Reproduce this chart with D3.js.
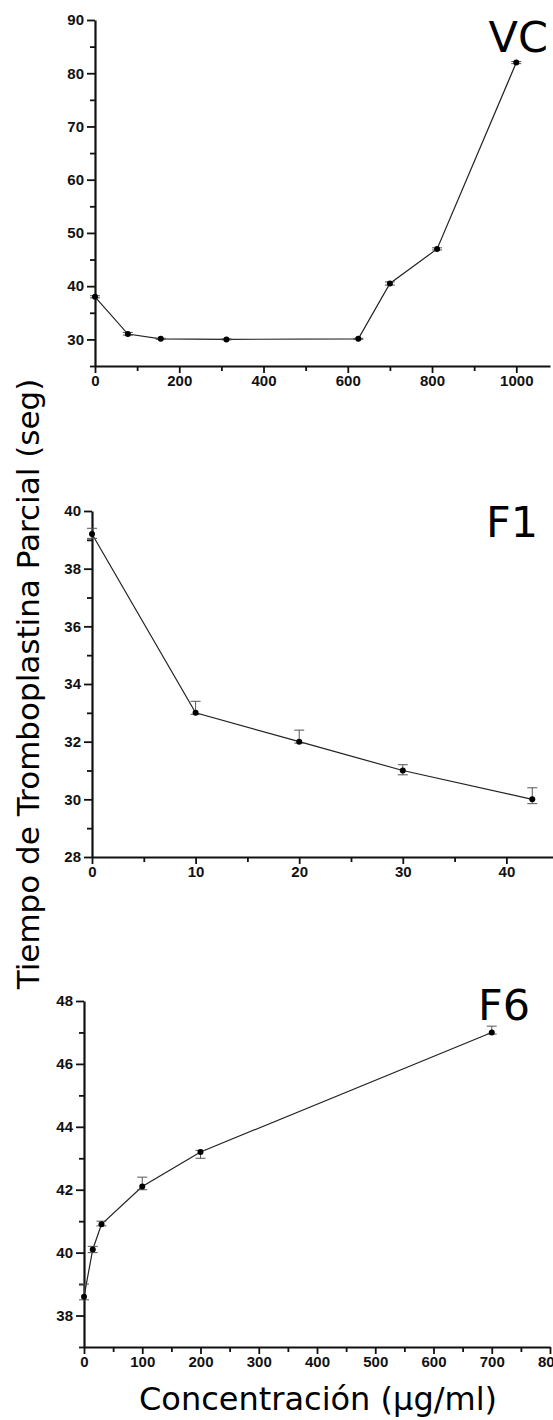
<!DOCTYPE html>
<html>
<head>
<meta charset="utf-8">
<script src="https://cdn.jsdelivr.net/npm/d3@7"></script>
<style>
  body { margin: 0; background: #fff; }
  svg { display: block; }
</style>
</head>
<body>
<div id="chart"></div>
<script>
// VC panel
const vcConc = [0, 78, 156, 312, 625, 700, 812, 1000];
const vcTime = [38, 31, 30.1, 30, 30.1, 40.5, 47, 82];
const vcHi = [38.2, 31.3, 30.2, 30.1, 30.2, 40.8, 47.2, 82.2];
const vcLo = [37.8, 30.8, 30.0, 29.9, 30.0, 40.2, 46.8, 81.8];
const vcYTicks = [30, 40, 50, 60, 70, 80, 90];
const vcXTicks = [0, 200, 400, 600, 800, 1000];

// F1 panel
const f1Conc = [0, 10, 20, 30, 42.5];
const f1Time = [39.2, 33, 32, 31, 30];
const f1Hi = [39.4, 33.4, 32.4, 31.2, 30.4];
const f1Lo = [39.05, 32.95, 31.95, 30.85, 29.85];
const f1YTicks = [28, 30, 32, 34, 36, 38, 40];
const f1XTicks = [0, 10, 20, 30, 40];

// F6 panel
const f6Conc = [0, 15, 30, 100, 200, 700];
const f6Time = [38.6, 40.1, 40.9, 42.1, 43.2, 47.0];
const f6Hi = [39.0, 40.2, 41.0, 42.4, 43.25, 47.2];
const f6Lo = [38.5, 40.0, 40.85, 42.0, 43.0, 46.95];
const f6YTicks = [38, 40, 42, 44, 46, 48];
const f6XTicks = [0, 100, 200, 300, 400, 500, 600, 700, 800];

const W = 553, H = 1420;
const svg = d3.select("#chart").append("svg").attr("width", W).attr("height", H);

function drawPanel(p) {
    const x = d3.scaleLinear().domain(p.xDomain).range(p.xRange);
    const y = d3.scaleLinear().domain(p.yDomain).range(p.yRange);
    const g = svg.append("g");

    // minor ticks
    g.append("g").attr("transform", `translate(${p.xRange[0]},0)`)
        .call(d3.axisLeft(y).tickValues(p.yMinor).tickSize(5).tickFormat(""))
        .call(a => a.select(".domain").remove());
    g.append("g").attr("transform", `translate(0,${p.yRange[0]})`)
        .call(d3.axisBottom(x).tickValues(p.xMinor).tickSize(5).tickFormat(""))
        .call(a => a.select(".domain").remove());

    const yAxis = g.append("g").attr("transform", `translate(${p.xRange[0]},0)`)
        .call(d3.axisLeft(y).tickValues(p.yTicks).tickFormat(d3.format("d"))
            .tickSize(8).tickSizeOuter(0).tickPadding(3));
    const xAxis = g.append("g").attr("transform", `translate(0,${p.yRange[0]})`)
        .call(d3.axisBottom(x).tickValues(p.xTicks).tickFormat(d3.format("d"))
            .tickSize(7).tickSizeOuter(0).tickPadding(2));
    [yAxis, xAxis].forEach(a => {
        a.select(".domain").attr("stroke-width", 2.2).attr("stroke", "#111");
        a.selectAll(".tick text")
            .style("font-family", "'Liberation Sans', Arial, sans-serif")
            .style("font-weight", "bold").style("font-size", "15px").attr("fill", "#111");
    });
    g.selectAll(".tick line").attr("stroke-width", 1.8).attr("stroke", "#111");

    const pts = p.conc.map((c, i) => ({ c, t: p.time[i], hi: p.hi[i], lo: p.lo[i] }));

    g.append("path").datum(pts)
        .attr("fill", "none").attr("stroke", "#222").attr("stroke-width", 1.2)
        .attr("d", d3.line().x(d => x(d.c)).y(d => y(d.t)));

    // error bars
    const eb = g.append("g").attr("stroke", "#555").attr("stroke-width", 1);
    eb.selectAll("line.v").data(pts).join("line").attr("class", "v")
        .attr("x1", d => x(d.c)).attr("x2", d => x(d.c))
        .attr("y1", d => y(d.hi)).attr("y2", d => y(d.lo));
    eb.selectAll("line.hi").data(pts).join("line").attr("class", "hi")
        .attr("x1", d => x(d.c) - 5).attr("x2", d => x(d.c) + 5)
        .attr("y1", d => y(d.hi)).attr("y2", d => y(d.hi));
    eb.selectAll("line.lo").data(pts).join("line").attr("class", "lo")
        .attr("x1", d => x(d.c) - 5).attr("x2", d => x(d.c) + 5)
        .attr("y1", d => y(d.lo)).attr("y2", d => y(d.lo));

    g.selectAll("circle").data(pts).join("circle")
        .attr("cx", d => x(d.c)).attr("cy", d => y(d.t)).attr("r", 3)
        .attr("fill", "#000");

    g.append("text").attr("x", p.label.x).attr("y", p.label.y)
        .attr("text-anchor", "end")
        .attr("font-family", "DejaVu Sans, sans-serif").attr("font-size", 43)
        .attr("fill", "#000").text(p.name);
}

drawPanel({
    name: "VC", label: { x: 548, y: 52 },
    conc: vcConc, time: vcTime, hi: vcHi, lo: vcLo,
    xDomain: [0, 1080], xRange: [95, 550], yDomain: [25, 90], yRange: [366, 20],
    yTicks: vcYTicks, xTicks: vcXTicks,
    yMinor: [25, 35, 45, 55, 65, 75, 85], xMinor: [100, 300, 500, 700, 900]
});

drawPanel({
    name: "F1", label: { x: 538, y: 537 },
    conc: f1Conc, time: f1Time, hi: f1Hi, lo: f1Lo,
    xDomain: [0, 44.5], xRange: [92, 553], yDomain: [28, 40], yRange: [857, 511],
    yTicks: f1YTicks, xTicks: f1XTicks,
    yMinor: [29, 31, 33, 35, 37, 39], xMinor: [5, 15, 25, 35]
});

drawPanel({
    name: "F6", label: { x: 530, y: 1020 },
    conc: f6Conc, time: f6Time, hi: f6Hi, lo: f6Lo,
    xDomain: [0, 800], xRange: [84, 550], yDomain: [37, 48], yRange: [1347, 1001],
    yTicks: f6YTicks, xTicks: f6XTicks,
    yMinor: [37, 39, 41, 43, 45, 47], xMinor: [50, 150, 250, 350, 450, 550, 650, 750]
});

svg.append("text")
    .attr("transform", "translate(39,684) rotate(-90)")
    .attr("text-anchor", "middle")
    .attr("font-family", "DejaVu Sans, sans-serif").attr("font-size", 31)
    .attr("fill", "#000")
    .text("Tiempo de Tromboplastina Parcial (seg)");

svg.append("text")
    .attr("x", 318).attr("y", 1410)
    .attr("text-anchor", "middle")
    .attr("font-family", "DejaVu Sans, sans-serif").attr("font-size", 32)
    .attr("fill", "#000")
    .text("Concentración (µg/ml)");
</script>
</body>
</html>
